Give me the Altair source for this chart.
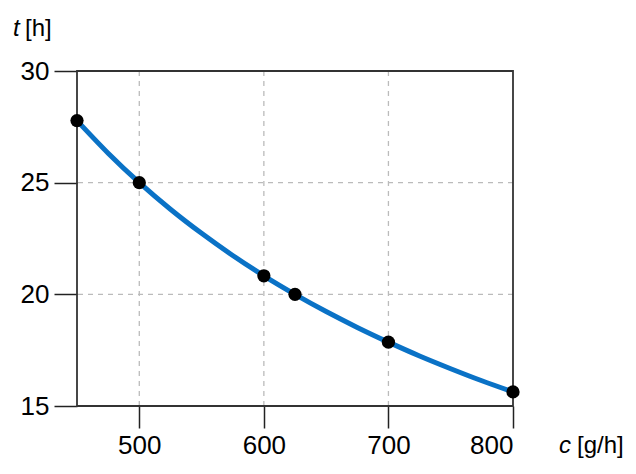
import altair as alt
import pandas as pd

# curve
curve_c = [450, 475, 500, 525, 550, 575, 600, 625, 650, 675, 700, 725, 750, 775, 800]
curve_t = [27.78, 26.32, 25.0, 23.81, 22.73, 21.74, 20.83, 20.0, 19.23, 18.52, 17.86, 17.24, 16.67, 16.13, 15.63]

# highlighted points
point_c = [450, 500, 600, 625, 700, 800]
point_t = [27.78, 25.0, 20.83, 20.0, 17.86, 15.63]

x_ticks = [500, 600, 700, 800]
y_ticks = [15, 20, 25, 30]
x_grid = [500, 600, 700]
y_grid = [20, 25]

FONT = "Liberation Sans"
W, H = 436, 335

curve_df = pd.DataFrame({"c": curve_c, "t": curve_t})
point_df = pd.DataFrame({"c": point_c, "t": point_t})

xscale = alt.Scale(domain=[450, 800], nice=False, zero=False)
yscale = alt.Scale(domain=[15, 30], nice=False, zero=False)

xaxis = alt.Axis(values=x_ticks, title=None, tickSize=22, tickColor="#222", tickWidth=1.5,
                 domain=False, grid=False,
                 labelFont=FONT, labelFontSize=26, labelColor="#000", labelPadding=4)
yaxis = alt.Axis(values=y_ticks, title=None, tickSize=23, tickColor="#222", tickWidth=1.5,
                 domain=False, grid=False,
                 labelFont=FONT, labelFontSize=26, labelColor="#000", labelPadding=5)

vgrid = alt.Chart(pd.DataFrame({"c": x_grid})).mark_rule(
    color="#bbbbbb", strokeDash=[5, 5], strokeWidth=1.3).encode(
    x=alt.X("c:Q", scale=xscale, axis=xaxis))
hgrid = alt.Chart(pd.DataFrame({"t": y_grid})).mark_rule(
    color="#bbbbbb", strokeDash=[5, 5], strokeWidth=1.3).encode(
    y=alt.Y("t:Q", scale=yscale, axis=yaxis))

line = alt.Chart(curve_df).mark_line(color="#0a72c6", strokeWidth=5, interpolate="monotone").encode(
    x=alt.X("c:Q", scale=xscale),
    y=alt.Y("t:Q", scale=yscale),
)

pts = alt.Chart(point_df).mark_circle(color="black", opacity=1, size=175).encode(
    x=alt.X("c:Q", scale=xscale),
    y=alt.Y("t:Q", scale=yscale),
)

lab_df = pd.DataFrame({"d": [0]})
frame = alt.Chart(lab_df).mark_rect(fill=None, stroke="#333333", strokeWidth=1.8).encode(
    x=alt.value(0), x2=alt.value(W), y=alt.value(0), y2=alt.value(H))

def label(txt, x, y, italic):
    return alt.Chart(lab_df).mark_text(
        text=txt, font=FONT, fontSize=24, fontStyle="italic" if italic else "normal",
        align="left", baseline="alphabetic", color="#000"
    ).encode(x=alt.value(x), y=alt.value(y))

labels = (label("t", -64, -35, True) + label("[h]", -52, -35, False)
          + label("c", 482, 382, True) + label("[g/h]", 500, 382, False))

chart = (vgrid + hgrid + frame + line + pts + labels).properties(
    width=W, height=H,
    autosize=alt.AutoSizeParams(type="none"),
    padding={"left": 69, "top": 63, "right": 110, "bottom": 60},
).configure_view(stroke=None)

chart.save("out.html", embed_options={"renderer": "svg", "actions": False})
